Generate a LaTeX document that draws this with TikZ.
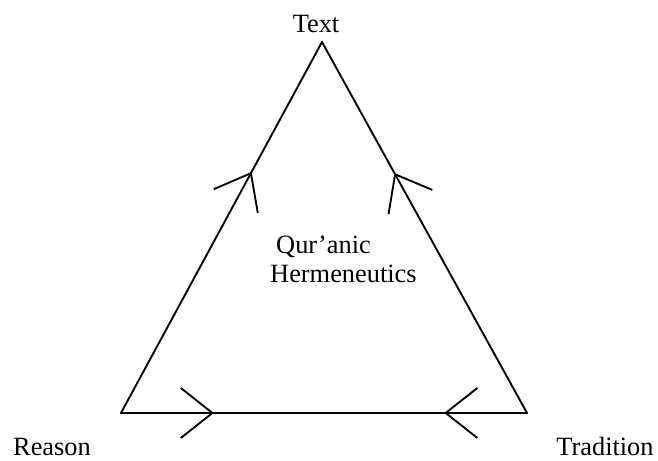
\documentclass[tikz,border=0pt]{standalone}
\usepackage{fontspec}
\setmainfont{Liberation Serif}
\usepackage{tikz}
\usetikzlibrary{arrows.meta,positioning,decorations.markings}
\tikzset{
  barb/.tip={Straight Barb[length=9.5mm,width=15mm,line width=1.6pt]},
  side/.style={line width=1.6pt,line cap=round,line join=miter},
  upmark/.style={side,postaction={decorate},decoration={markings,mark=at position #1 with {\arrow{barb}}}},
  botmark/.style={side,postaction={decorate},decoration={markings,
      mark=at position 0.229 with {\arrow{barb}},
      mark=at position 0.796 with {\arrowreversed{barb}}}},
  vertex/.style={font=\fontsize{22.5}{25.6}\selectfont,inner sep=0pt}
}

\begin{document}
\begin{tikzpicture}[x=0.03cm,y=-0.03cm]
  \useasboundingbox (0,0) rectangle (658,461);
  % Corners
  \coordinate (top) at (322,42);
  \coordinate (left) at (121,413);
  \coordinate (right) at (527,413);

  % Labels
  \node[vertex,anchor=base] (text) at (316,33) {Text};
  \node[vertex,anchor=base] (reason) at (52,456) {Reason};
  \node[vertex,anchor=base] (tradition) at (605,456) {Tradition};
  \node[vertex,anchor=base west,align=left] (herm) at (270,283)
    {\hspace*{0.18cm}Qur’anic\\Hermeneutics};

  % Sides
  \draw[upmark=0.65] (left) -- (top);
  \draw[upmark=0.647] (right) -- (top);
  \draw[botmark] (left) -- (right);
\end{tikzpicture}
\end{document}
